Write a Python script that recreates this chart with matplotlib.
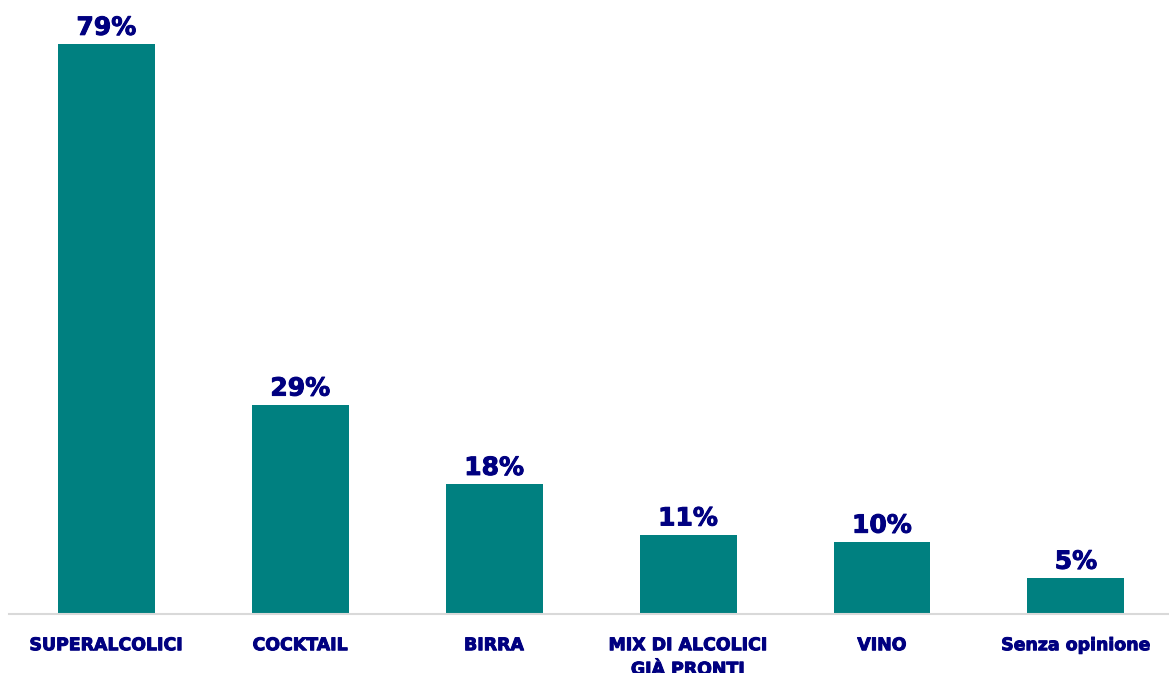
import matplotlib
matplotlib.use('Agg')
import matplotlib.pyplot as plt
import matplotlib.patheffects as pe

# Data
categories = ['SUPERALCOLICI', 'COCKTAIL', 'BIRRA', 'MIX DI ALCOLICI\nGIÀ PRONTI', 'VINO', 'Senza opinione']
values = [79, 29, 18, 11, 10, 5]

BAR_COLOR = '#008080'
TEXT_COLOR = '#000080'

fig = plt.figure(figsize=(11.69, 6.73), dpi=100)
ax = fig.add_axes([0.008, 0.0877, 0.992, 0.9123])

x = range(len(categories))
bars = ax.bar(x, values, width=0.5, color=BAR_COLOR)

# heavier strokes to mimic the Verdana Bold look
thick = [pe.withStroke(linewidth=0.7, foreground=TEXT_COLOR)]

for b, v in zip(bars, values):
    ax.annotate(f'{v}%', (b.get_x() + b.get_width() / 2, v), xytext=(0, 3),
                textcoords='offset points', ha='center', va='bottom',
                fontsize=18, fontweight='bold', color=TEXT_COLOR,
                path_effects=thick)

ax.set_xlim(-0.5, 5.48)
ax.set_ylim(0, 85.1)
ax.set_xticks(list(x))
ax.set_xticklabels(categories, fontsize=12.5, fontweight='bold', color=TEXT_COLOR,
                   linespacing=1.45, va='top', path_effects=thick)
ax.tick_params(axis='x', length=0, pad=16)
ax.set_yticks([])

for side in ['top', 'right', 'left']:
    ax.spines[side].set_visible(False)
ax.spines['bottom'].set_color('#d9d9d9')
ax.spines['bottom'].set_linewidth(1.5)

plt.savefig('out.png', dpi=100)
plt.close(fig)
